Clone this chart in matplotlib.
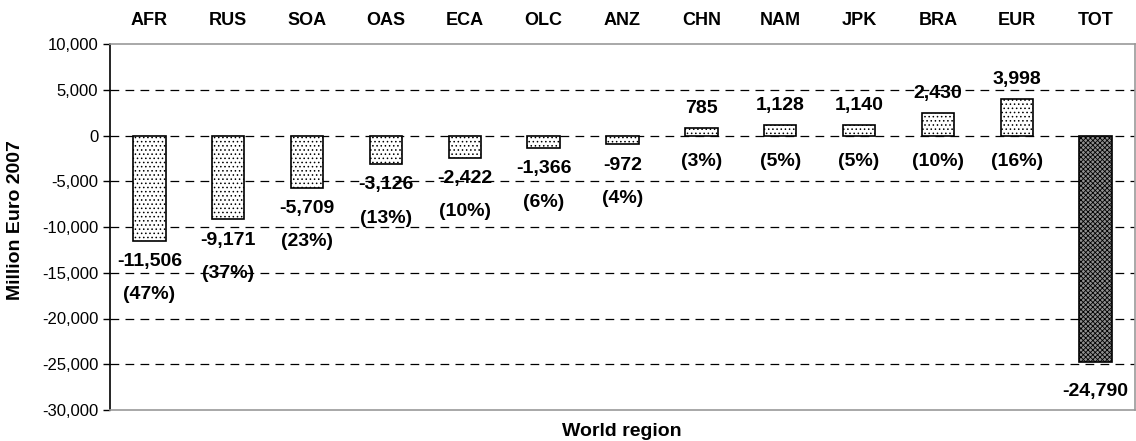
import matplotlib.pyplot as plt
import matplotlib as mpl
from matplotlib.ticker import FuncFormatter

plt.rcParams['font.family'] = ['Liberation Sans', 'DejaVu Sans']
mpl.rcParams['hatch.linewidth'] = 0.6

regions = ['AFR', 'RUS', 'SOA', 'OAS', 'ECA', 'OLC', 'ANZ', 'CHN', 'NAM', 'JPK', 'BRA', 'EUR', 'TOT']
values = [-11506, -9171, -5709, -3126, -2422, -1366, -972, 785, 1128, 1140, 2430, 3998, -24790]
shares = ['(47%)', '(37%)', '(23%)', '(13%)', '(10%)', '(6%)', '(4%)', '(3%)', '(5%)', '(5%)', '(10%)', '(16%)', None]


def main():
    fig = plt.figure(figsize=(11.36, 4.41), dpi=100)
    ax = fig.add_axes([110 / 1136, 31 / 441, 1025 / 1136, 366 / 441])

    x = list(range(len(regions)))
    for i, v in enumerate(values):
        if regions[i] == 'TOT':
            ax.bar(i, v, width=0.41, facecolor='#8f8f8f', edgecolor='black',
                   hatch='xxxxxxx', linewidth=1.2, zorder=3)
        else:
            ax.bar(i, v, width=0.41, facecolor='white', edgecolor='black',
                   hatch='....', linewidth=1.2, zorder=3)

    # value labels and shares
    fs = 14
    for i, v in enumerate(values):
        txt = f'{v:,}'
        if v < 0:
            off = -21 if shares[i] is None else -15
            ax.annotate(txt, (i, v), xytext=(0, off), textcoords='offset points',
                        ha='center', va='center', fontsize=fs, fontweight='bold', zorder=4)
            if shares[i]:
                ax.annotate(shares[i], (i, v), xytext=(0, -39), textcoords='offset points',
                            ha='center', va='center', fontsize=fs, fontweight='bold', zorder=4)
        else:
            ax.annotate(txt, (i, v), xytext=(0, 14), textcoords='offset points',
                        ha='center', va='center', fontsize=fs, fontweight='bold', zorder=4)
            ax.annotate(shares[i], (i, 0), xytext=(0, -19), textcoords='offset points',
                        ha='center', va='center', fontsize=fs, fontweight='bold', zorder=4)

    ax.set_xlim(-0.5, len(regions) - 0.5)
    ax.set_ylim(-30000, 10000)
    ax.set_yticks(range(-30000, 10001, 5000))
    ax.yaxis.set_major_formatter(FuncFormatter(lambda v, p: f'{int(v):,}'))
    for y in range(-25000, 10000, 5000):
        ax.axhline(y, color='black', linestyle=(0, (7, 5)), linewidth=0.9, zorder=1)

    ax.xaxis.tick_top()
    ax.set_xticks(x)
    ax.set_xticklabels(regions, fontsize=13, fontweight='bold')
    ax.tick_params(axis='x', length=0, pad=11)
    ax.tick_params(axis='y', direction='out', length=5, labelsize=12, width=1)

    for s in ['top', 'right', 'bottom']:
        ax.spines[s].set_color('#999999')
        ax.spines[s].set_linewidth(1.2)
    ax.spines['left'].set_linewidth(1.2)

    ax.set_ylabel('Million Euro 2007', fontsize=14, fontweight='bold')
    ax.yaxis.set_label_coords(-0.084, 0.52)
    fig.text(622 / 1136, 1 - 432 / 441, 'World region', ha='center', va='center',
             fontsize=14, fontweight='bold')

    fig.savefig('out.png', dpi=100)


if __name__ == '__main__':
    main()
